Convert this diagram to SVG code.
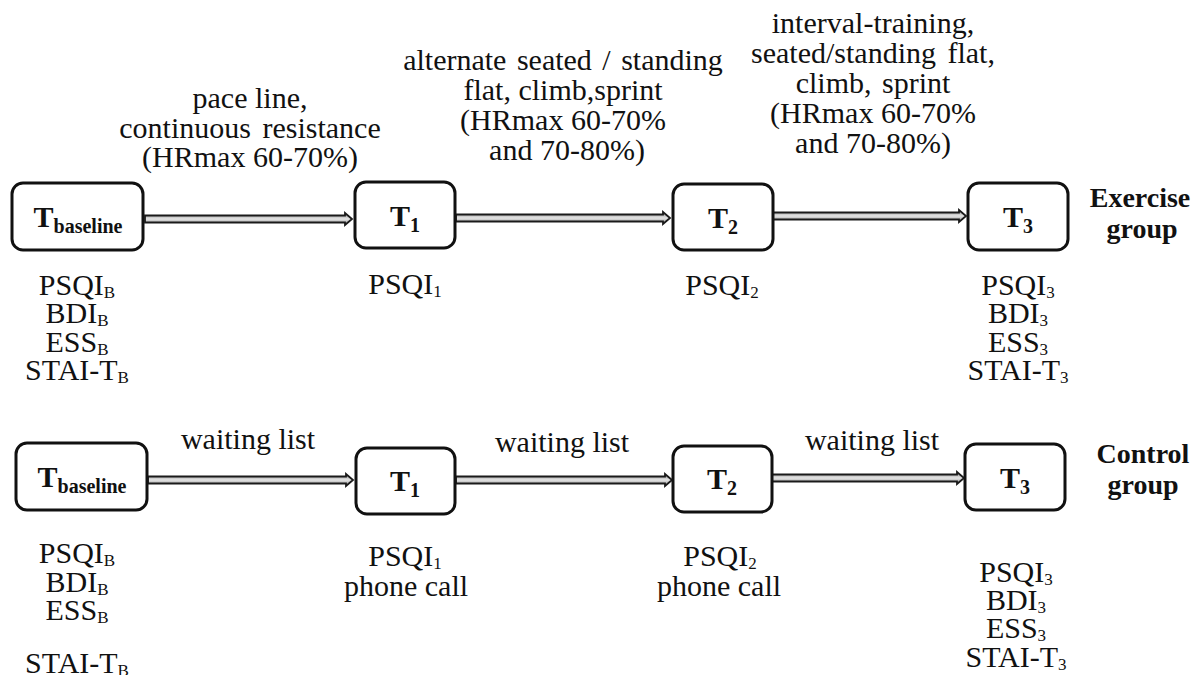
<svg xmlns="http://www.w3.org/2000/svg" width="1195" height="675" viewBox="0 0 1195 675">
  <defs>
    <linearGradient id="shaft" x1="0" y1="0" x2="0" y2="1">
      <stop offset="0" stop-color="#8c8c8c"/>
      <stop offset="0.5" stop-color="#e4e4e4"/>
      <stop offset="1" stop-color="#8c8c8c"/>
    </linearGradient>
  </defs>
  <style>
    text { font-family: "Liberation Serif", "Times New Roman", serif; fill: #111; }
    .lbl { font-size: 30px; text-anchor: middle; }
    .m { font-size: 30px; text-anchor: middle; }
    .sub { font-size: 17px; }
    .node rect { fill: #fff; stroke: #111; stroke-width: 3; }
    .nt { font-size: 30px; font-weight: bold; text-anchor: middle; }
    .ns { font-size: 20px; font-weight: bold; }
    .grp { font-size: 28px; font-weight: bold; text-anchor: middle; }
    .arrow { fill: url(#shaft); stroke: #1a1a1a; stroke-width: 1.8; stroke-linejoin: miter; }
  </style>
  <rect width="1195" height="675" fill="#fff"/>

  <!-- connectors: hollow block arrows between time points -->
  <g id="connectors">
    <path class="arrow" d="M145,215.5 H345 V213 L352,219 L345,225 V222.5 H145 Z"/>
    <path class="arrow" d="M456,214.5 H663 V212 L670,218 L663,224 V221.5 H456 Z"/>
    <path class="arrow" d="M773,212.5 H959 V210 L966,216 L959,222 V219.5 H773 Z"/>
    <path class="arrow" d="M148,476.5 H346 V474 L353,480 L346,486 V483.5 H148 Z"/>
    <path class="arrow" d="M456,476.5 H665 V474 L672,480 L665,486 V483.5 H456 Z"/>
    <path class="arrow" d="M772,474.5 H957 V472 L964,478 L957,484 V481.5 H772 Z"/>
  </g>

  <!-- arrow labels, exercise group -->
  <g id="label-ex-1">
    <text class="lbl" x="250" y="108">pace line,</text>
    <text class="lbl" x="250" y="138" word-spacing="4">continuous resistance</text>
    <text class="lbl" x="250" y="167">(HRmax 60-70%)</text>
  </g>
  <g id="label-ex-2">
    <text class="lbl" x="563" y="70" word-spacing="3">alternate seated / standing</text>
    <text class="lbl" x="563" y="100">flat, climb,sprint</text>
    <text class="lbl" x="563" y="130">(HRmax 60-70%</text>
    <text class="lbl" x="567" y="160">and 70-80%)</text>
  </g>
  <g id="label-ex-3">
    <text class="lbl" x="873" y="33">interval-training,</text>
    <text class="lbl" x="873" y="63" word-spacing="4">seated/standing flat,</text>
    <text class="lbl" x="873" y="93" word-spacing="3">climb, sprint</text>
    <text class="lbl" x="873" y="123">(HRmax 60-70%</text>
    <text class="lbl" x="873" y="153">and 70-80%)</text>
  </g>

  <!-- arrow labels, control group -->
  <g id="label-ctl-1"><text class="lbl" x="248" y="449">waiting list</text></g>
  <g id="label-ctl-2"><text class="lbl" x="562" y="452">waiting list</text></g>
  <g id="label-ctl-3"><text class="lbl" x="872" y="450">waiting list</text></g>

  <!-- exercise group nodes -->
  <g id="ex-tbaseline" class="node">
    <rect x="12" y="183" width="131" height="67" rx="11"/>
    <text class="nt" x="78" y="227">T<tspan class="ns" dy="6">baseline</tspan></text>
  </g>
  <g id="ex-t1" class="node">
    <rect x="355" y="182" width="100" height="66" rx="11"/>
    <text class="nt" x="405" y="226">T<tspan class="ns" dy="6">1</tspan></text>
  </g>
  <g id="ex-t2" class="node">
    <rect x="673" y="184" width="100" height="66" rx="11"/>
    <text class="nt" x="723" y="228">T<tspan class="ns" dy="6">2</tspan></text>
  </g>
  <g id="ex-t3" class="node">
    <rect x="968" y="183" width="100" height="67" rx="11"/>
    <text class="nt" x="1018" y="227">T<tspan class="ns" dy="6">3</tspan></text>
  </g>
  <g id="ex-group">
    <text class="grp" x="1140" y="207">Exercise</text>
    <text class="grp" x="1142" y="238">group</text>
  </g>

  <!-- control group nodes -->
  <g id="ctl-tbaseline" class="node">
    <rect x="16" y="443" width="131" height="67" rx="11"/>
    <text class="nt" x="82" y="487">T<tspan class="ns" dy="6">baseline</tspan></text>
  </g>
  <g id="ctl-t1" class="node">
    <rect x="356" y="448" width="99" height="66" rx="11"/>
    <text class="nt" x="405" y="491">T<tspan class="ns" dy="6">1</tspan></text>
  </g>
  <g id="ctl-t2" class="node">
    <rect x="673" y="446" width="99" height="66" rx="11"/>
    <text class="nt" x="722" y="489">T<tspan class="ns" dy="6">2</tspan></text>
  </g>
  <g id="ctl-t3" class="node">
    <rect x="965" y="444" width="100" height="66" rx="11"/>
    <text class="nt" x="1015" y="488">T<tspan class="ns" dy="6">3</tspan></text>
  </g>
  <g id="ctl-group">
    <text class="grp" x="1143" y="463">Control</text>
    <text class="grp" x="1143" y="494">group</text>
  </g>

  <!-- measurements, exercise group -->
  <g id="ex-meas-b">
    <text class="m" x="77" y="295">PSQI<tspan class="sub" dy="3">B</tspan></text>
    <text class="m" x="77" y="323">BDI<tspan class="sub" dy="3">B</tspan></text>
    <text class="m" x="77" y="352">ESS<tspan class="sub" dy="3">B</tspan></text>
    <text class="m" x="77" y="380">STAI-T<tspan class="sub" dy="3">B</tspan></text>
  </g>
  <g id="ex-meas-1">
    <text class="m" x="405" y="294">PSQI<tspan class="sub" dy="3">1</tspan></text>
  </g>
  <g id="ex-meas-2">
    <text class="m" x="722" y="295">PSQI<tspan class="sub" dy="3">2</tspan></text>
  </g>
  <g id="ex-meas-3">
    <text class="m" x="1018" y="295">PSQI<tspan class="sub" dy="3">3</tspan></text>
    <text class="m" x="1018" y="323">BDI<tspan class="sub" dy="3">3</tspan></text>
    <text class="m" x="1018" y="352">ESS<tspan class="sub" dy="3">3</tspan></text>
    <text class="m" x="1018" y="380">STAI-T<tspan class="sub" dy="3">3</tspan></text>
  </g>

  <!-- measurements, control group -->
  <g id="ctl-meas-b">
    <text class="m" x="77" y="563">PSQI<tspan class="sub" dy="3">B</tspan></text>
    <text class="m" x="77" y="592">BDI<tspan class="sub" dy="3">B</tspan></text>
    <text class="m" x="77" y="620">ESS<tspan class="sub" dy="3">B</tspan></text>
    <text class="m" x="77" y="673">STAI-T<tspan class="sub" dy="3">B</tspan></text>
  </g>
  <g id="ctl-meas-1">
    <text class="m" x="405" y="566">PSQI<tspan class="sub" dy="3">1</tspan></text>
    <text class="m" x="406" y="596">phone call</text>
  </g>
  <g id="ctl-meas-2">
    <text class="m" x="720" y="566">PSQI<tspan class="sub" dy="3">2</tspan></text>
    <text class="m" x="719" y="596">phone call</text>
  </g>
  <g id="ctl-meas-3">
    <text class="m" x="1016" y="582">PSQI<tspan class="sub" dy="3">3</tspan></text>
    <text class="m" x="1016" y="610">BDI<tspan class="sub" dy="3">3</tspan></text>
    <text class="m" x="1016" y="638">ESS<tspan class="sub" dy="3">3</tspan></text>
    <text class="m" x="1016" y="667">STAI-T<tspan class="sub" dy="3">3</tspan></text>
  </g>
</svg>
